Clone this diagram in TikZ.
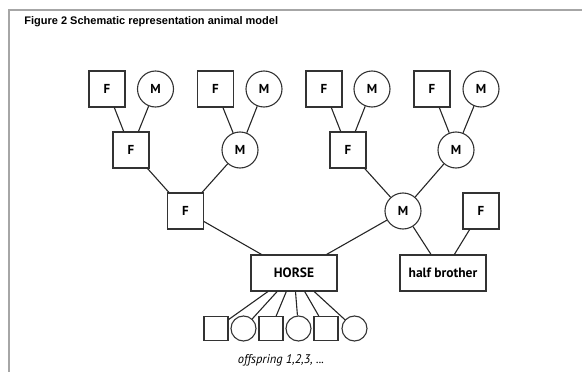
\documentclass[tikz,border=0pt]{standalone}
\usepackage{fontspec}
\setmainfont{PT Sans}
\newfontfamily\titlefont{Liberation Sans}
\begin{document}
\begin{tikzpicture}[x=1pt,y=-1pt,
  line width=1.1pt, draw=black!80,
  sq/.style={draw=black!80, rectangle, minimum size=36pt, inner sep=0pt, font=\fontsize{13}{13}\selectfont\bfseries},
  ci/.style={draw=black!80, circle, minimum size=36pt, inner sep=0pt, font=\fontsize{13}{13}\selectfont\bfseries},
  osq/.style={draw=black!80, rectangle, minimum size=24pt, inner sep=0pt},
  oci/.style={draw=black!80, circle, minimum size=25pt, inner sep=0pt},
  wide/.style={draw=black!80, rectangle, minimum width=86pt, minimum height=36pt, inner sep=0pt, font=\fontsize{13.5}{13.5}\selectfont\bfseries},
  link/.style={draw=black!85, line width=1.1pt}
]
\useasboundingbox (0,0) rectangle (582,372);
\draw[black!35, line width=1.5pt] (9,372) -- (9,10) -- (582,10);
\node[anchor=west, font=\titlefont\fontsize{11}{11}\selectfont\bfseries] (title) at (20.5,22) {Figure 2 Schematic representation animal model};

% top row
\node[sq] (f1) at (107,89) {F};
\node[ci] (m1) at (155.5,89) {M};
\node[sq] (f2) at (215.5,89) {F};
\node[ci] (m2) at (264,89) {M};
\node[sq] (f3) at (324,89) {F};
\node[ci] (m3) at (372,89) {M};
\node[sq] (f4) at (432,89) {F};
\node[ci] (m4) at (481,89) {M};
% second row
\node[sq] (f5) at (131,150) {F};
\node[ci] (m5) at (240,150) {M};
\node[sq] (f6) at (348,150) {F};
\node[ci] (m6) at (456,150) {M};
% third row
\node[sq] (f7) at (185.5,211) {F};
\node[ci] (m7) at (403,211) {M};
\node[sq] (f8) at (481,211) {F};
% horse and half brother
\node[wide] (horse) at (294,273) {HORSE};
\node[wide] (hb) at (443,273) {half brother};
% offspring
\node[osq] (o1) at (216,328.5) {};
\node[oci] (o2) at (243.5,328.5) {};
\node[osq] (o3) at (271,328.5) {};
\node[oci] (o4) at (298.5,328.5) {};
\node[osq] (o5) at (326,328.5) {};
\node[oci] (o6) at (354.5,328.5) {};
\node[font=\fontsize{12.5}{12.5}\selectfont\itshape] (lab) at (281,360) {offspring 1,2,3, ...};

% connectors
\draw[link] (f1) -- (f5);
\draw[link] (m1) -- (f5);
\draw[link] (f2) -- (m5);
\draw[link] (m2) -- (m5);
\draw[link] (f3) -- (f6);
\draw[link] (m3) -- (f6);
\draw[link] (f4) -- (m6);
\draw[link] (m4) -- (m6);
\draw[link] (f5) -- (f7);
\draw[link] (m5) -- (f7);
\draw[link] (f6) -- (m7);
\draw[link] (m6) -- (m7);
\draw[link] (f7) -- (horse);
\draw[link] (m7) -- (horse);
\draw[link] (m7) -- (hb);
\draw[link] (f8) -- (hb);
\foreach \o in {o1,o2,o3,o4,o5,o6} \draw[link] (horse) -- (\o);
\end{tikzpicture}
\end{document}
